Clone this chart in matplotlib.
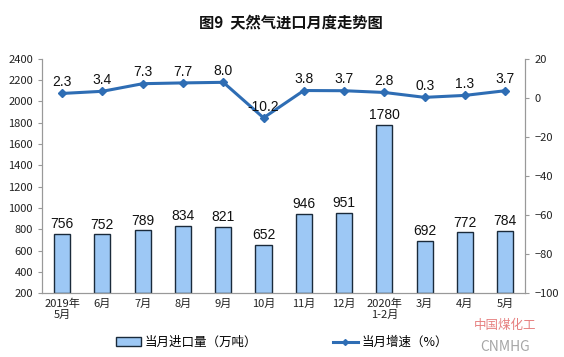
import matplotlib
matplotlib.use("Agg")
import matplotlib.pyplot as plt
from matplotlib.lines import Line2D
from matplotlib.patches import Patch
import numpy as np

plt.rcParams['font.family'] = ['Noto Sans CJK SC', 'DejaVu Sans']

categories = ["2019年\n5月", "6月", "7月", "8月", "9月", "10月", "11月", "12月",
              "2020年\n1-2月", "3月", "4月", "5月"]
imports = [756, 752, 789, 834, 821, 652, 946, 951, 1780, 692, 772, 784]
growth = [2.3, 3.4, 7.3, 7.7, 8.0, -10.2, 3.8, 3.7, 2.8, 0.3, 1.3, 3.7]
growth_labels = ["2.3", "3.4", "7.3", "7.7", "8.0", "-10.2", "3.8", "3.7", "2.8", "0.3", "1.3", "3.7"]

fig = plt.figure(figsize=(5.64, 3.57), dpi=100)
ax = fig.add_axes([0.0745, 0.179, 0.857, 0.656])
x = np.arange(len(categories))

bar_color = "#9DC8F5"
edge = "#1A2A3A"
line_color = "#2E6DB4"

ax.bar(x, [v - 200 for v in imports], bottom=200, width=0.4, color=bar_color,
       edgecolor=edge, linewidth=1.0, zorder=2)
ax.set_ylim(200, 2400)
ax.set_xlim(-0.5, len(categories) - 0.5)
ax.set_yticks(range(200, 2401, 200))
ax.set_xticks(x)
ax.set_xticklabels(categories, fontsize=8, linespacing=1.1)
for lbl in ax.get_yticklabels():
    lbl.set_fontsize(8)

for xi, v in zip(x, imports):
    ax.text(xi, v + 25, str(v), ha='center', va='bottom', fontsize=10,
            family=['Liberation Sans'], color='#111111')

ax2 = ax.twinx()
ax2.plot(x, growth, color=line_color, linewidth=2.2, marker='D', markersize=4,
         zorder=3)
ax2.set_ylim(-100, 20)
ax2.set_yticks(range(-100, 21, 20))
for lbl in ax2.get_yticklabels():
    lbl.set_fontsize(8)
for xi, v, s in zip(x, growth, growth_labels):
    ax2.text(xi, v + 2.2, s, ha='center', va='bottom', fontsize=10,
             family=['Liberation Sans'], color='#111111')

for a in (ax, ax2):
    a.spines['top'].set_visible(False)
    for s in ('left', 'right', 'bottom'):
        a.spines[s].set_color('#999999')
        a.spines[s].set_linewidth(0.8)
    a.tick_params(axis='both', length=3, color='#999999', labelcolor='#222222')
ax.tick_params(axis='x', length=0, pad=4)

fig.text(0.515, 0.938, "图9  天然气进口月度走势图", ha='center', va='center',
         fontsize=11, fontweight='bold', color='#111111')

handles = [Patch(facecolor=bar_color, edgecolor=edge, linewidth=1.0),
           Line2D([0], [0], color=line_color, linewidth=2.2, marker='D', markersize=3)]
fig.legend(handles, ["当月进口量（万吨）", "当月增速（%）"], loc='center',
           bbox_to_anchor=(0.5, 0.04), ncol=2, frameon=False, fontsize=9,
           columnspacing=6, handlelength=2.0, handletextpad=0.3)

fig.text(0.895, 0.088, "中国煤化工", ha='center', va='center', fontsize=9,
         color='#E06060', alpha=0.8)
fig.text(0.895, 0.028, "CNMHG", ha='center', va='center', fontsize=10,
         color='#909090', alpha=0.8)

fig.savefig("out.png", dpi=100)
